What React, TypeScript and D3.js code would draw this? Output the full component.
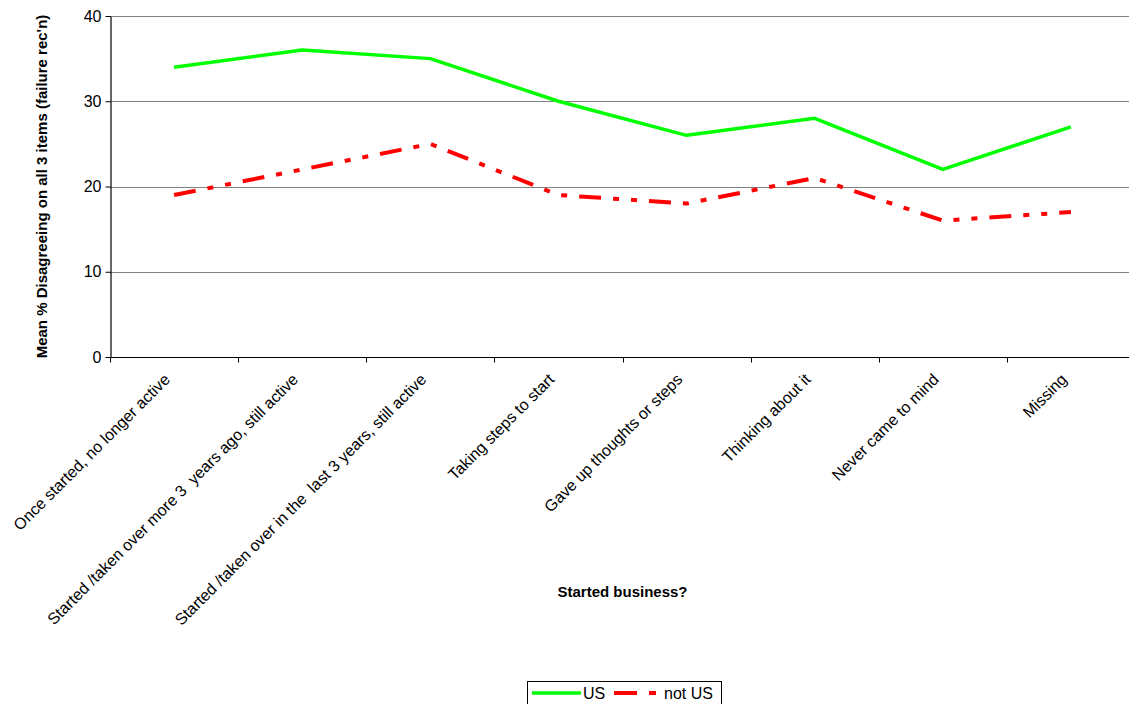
import { useEffect, useRef } from 'react';
import * as d3 from 'd3';

const categories = [
  'Once started, no longer active',
  'Started /taken over more 3  years ago, still active',
  'Started /taken over in the  last 3 years, still active',
  'Taking steps to start',
  'Gave up thoughts or steps',
  'Thinking about it',
  'Never came to mind',
  'Missing',
];
const usValues = [34, 36, 35, 30, 26, 28, 22, 27];
const notUsValues = [19, 22, 25, 19, 18, 21, 16, 17];
const yTicks = [0, 10, 20, 30, 40];

const series = [
  { name: 'US', values: usValues, color: '#00ff00', dash: null as string | null, width: 3.5 },
  { name: 'not US', values: notUsValues, color: '#ff0000', dash: '22 12 6 12 6 12', width: 4 },
];

function App() {
  const svgRef = useRef<SVGSVGElement | null>(null);
  const width = 1129;
  const height = 704;
  const margin = { top: 16, right: -6, bottom: 347, left: 110 };

  useEffect(() => {
    const svg = d3.select(svgRef.current);
    svg.selectAll('*').remove();
    const font = 'Arial, "Liberation Sans", sans-serif';

    const x = d3
      .scaleBand()
      .domain(categories)
      .range([margin.left, width - margin.right]);

    const y = d3
      .scaleLinear()
      .domain([0, 40])
      .range([height - margin.bottom, margin.top]);

    // gridlines
    svg
      .append('g')
      .selectAll('line')
      .data(yTicks.filter((t) => t > 0))
      .enter()
      .append('line')
      .attr('x1', margin.left)
      .attr('x2', width - margin.right)
      .attr('y1', (d) => Math.round(y(d)) + 0.5)
      .attr('y2', (d) => Math.round(y(d)) + 0.5)
      .attr('stroke', '#808080')
      .attr('stroke-width', 1.2);

    // y axis
    const yAxis = svg.append('g').attr('transform', `translate(${margin.left + 0.5},0)`);
    yAxis.call(d3.axisLeft(y).tickValues(yTicks).tickSize(5).tickSizeOuter(0));
    yAxis.select('.domain').attr('stroke', '#000').attr('stroke-width', 1.2);
    yAxis.selectAll('.tick line').attr('stroke', '#000');
    yAxis
      .selectAll('.tick text')
      .attr('font-family', font)
      .attr('font-size', 16)
      .attr('fill', '#000')
      .attr('x', -9);

    // x axis
    const baseY = Math.round(y(0)) + 0.5;
    svg
      .append('line')
      .attr('x1', margin.left)
      .attr('x2', width - margin.right)
      .attr('y1', baseY)
      .attr('y2', baseY)
      .attr('stroke', '#000')
      .attr('stroke-width', 1.2);

    const bounds = d3.range(categories.length + 1).map((i) => margin.left + i * x.bandwidth());
    svg
      .append('g')
      .selectAll('line')
      .data(bounds)
      .enter()
      .append('line')
      .attr('x1', (d) => Math.round(d) + 0.5)
      .attr('x2', (d) => Math.round(d) + 0.5)
      .attr('y1', baseY)
      .attr('y2', baseY + 5)
      .attr('stroke', '#000');

    const cx = (c: string) => (x(c) as number) + x.bandwidth() / 2;

    svg
      .append('g')
      .selectAll('text')
      .data(categories)
      .enter()
      .append('text')
      .attr('transform', (d) => `translate(${cx(d) - 7},${baseY + 19}) rotate(-45)`)
      .attr('text-anchor', 'end')
      .attr('dy', '0.35em')
      .attr('font-family', font)
      .attr('font-size', 16)
      .attr('fill', '#000')
      .style('white-space', 'pre')
      .text((d) => d);

    // axis titles
    svg
      .append('text')
      .attr('x', (margin.left + width - margin.right) / 2)
      .attr('y', 597)
      .attr('text-anchor', 'middle')
      .attr('font-family', font)
      .attr('font-size', 15)
      .attr('font-weight', 'bold')
      .text('Started business?');

    svg
      .append('text')
      .attr('transform', `translate(47,${(margin.top + height - margin.bottom) / 2}) rotate(-90)`)
      .attr('text-anchor', 'middle')
      .attr('font-family', font)
      .attr('font-size', 15)
      .attr('font-weight', 'bold')
      .text("Mean % Disagreeing on all 3 items (failure rec'n)");

    // lines
    const line = d3
      .line<number>()
      .x((_, i) => cx(categories[i]))
      .y((d) => y(d));

    series.forEach((s) => {
      svg
        .append('path')
        .datum(s.values)
        .attr('d', line)
        .attr('fill', 'none')
        .attr('stroke', s.color)
        .attr('stroke-width', s.width)
        .attr('stroke-dasharray', s.dash)
        .attr('stroke-linejoin', 'round');
    });

    // legend
    const legend = svg.append('g').attr('transform', 'translate(527,681)');
    legend
      .append('rect')
      .attr('x', 0.5)
      .attr('y', 0.5)
      .attr('width', 194)
      .attr('height', 28)
      .attr('fill', '#fff')
      .attr('stroke', '#000');
    legend
      .append('line')
      .attr('x1', 5)
      .attr('x2', 54)
      .attr('y1', 12)
      .attr('y2', 12)
      .attr('stroke', series[0].color)
      .attr('stroke-width', 3.5);
    legend
      .append('text')
      .attr('x', 56)
      .attr('y', 18)
      .attr('font-family', font)
      .attr('font-size', 16)
      .text(series[0].name);
    legend
      .append('line')
      .attr('x1', 87)
      .attr('x2', 130)
      .attr('y1', 12)
      .attr('y2', 12)
      .attr('stroke', series[1].color)
      .attr('stroke-width', 4)
      .attr('stroke-dasharray', '23 12 7 12');
    legend
      .append('text')
      .attr('x', 137)
      .attr('y', 18)
      .attr('font-family', font)
      .attr('font-size', 16)
      .text(series[1].name);
  }, []);

  return (
    <div style={{ position: 'absolute', left: 0, top: 0, width, height, overflow: 'hidden', background: '#fff' }}>
      <svg ref={svgRef} width={width} height={height} style={{ display: 'block' }} />
    </div>
  );
}

export default App;
